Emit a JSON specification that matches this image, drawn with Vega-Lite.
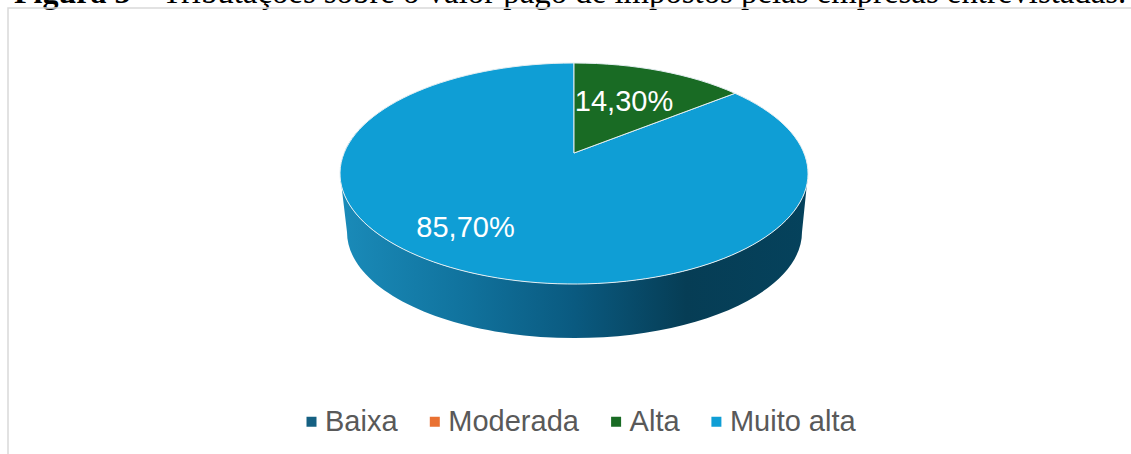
{"$schema":"https://vega.github.io/schema/vega-lite/v6.json","width":1131,"height":454,"padding":0,"autosize":{"type":"none"},"background":"#ffffff","view":{"stroke":null},"config":{"font":"Liberation Sans"},"data":{"values":[{"categoria":"Baixa","percentual":0},{"categoria":"Moderada","percentual":0},{"categoria":"Alta","percentual":14.3},{"categoria":"Muito alta","percentual":85.7}]},"layer":[{"mark":{"type":"point","filled":true,"size":0.01,"shape":"square"},"encoding":{"color":{"field":"categoria","type":"nominal","scale":{"domain":["Baixa","Moderada","Alta","Muito alta"],"range":["#156082","#E97132","#196B24","#0F9ED5"]},"legend":{"title":null,"orient":"none","direction":"horizontal","legendX":297,"legendY":407,"symbolType":"square","symbolSize":100,"symbolStrokeWidth":0,"symbolOpacity":1,"labelFont":"Liberation Sans","labelFontSize":29,"labelColor":"#595959","labelOffset":-1,"columnPadding":22.3,"labelLimit":300}}}},{"transform":[{"filter":"datum.categoria === 'Muito alta'"}],"mark":{"type":"point","filled":true,"size":4,"opacity":1,"shape":"M-225.5,-53.5 A234,110.5 0 0 0 242.5,-53.5 L236.5,5 A227.5,106 0 0 1 -218.5,5 Z","fill":{"gradient":"linear","x1":0,"y1":0,"x2":1,"y2":0,"stops":[{"offset":0,"color":"#1a8bb9"},{"offset":0.25,"color":"#11749f"},{"offset":0.5,"color":"#0a5a80"},{"offset":0.74,"color":"#063d55"},{"offset":1,"color":"#05425c"}]}},"encoding":{}},{"transform":[{"filter":"datum.categoria === 'Muito alta'"}],"mark":{"type":"point","filled":true,"size":4,"opacity":1,"stroke":"#e4eef2","strokeWidth":1,"shape":"M8.5,-74 L169.5,-133.7 A234,110.5 0 1 1 8.5,-164 Z"},"encoding":{"color":{"field":"categoria","type":"nominal","legend":null}}},{"transform":[{"filter":"datum.categoria === 'Alta'"}],"mark":{"type":"point","filled":true,"size":4,"opacity":1,"stroke":"#e4eef2","strokeWidth":1,"shape":"M8.5,-74 L8.5,-164 A234,110.5 0 0 1 169.5,-133.7 Z"},"encoding":{"color":{"field":"categoria","type":"nominal","legend":null}}},{"transform":[{"filter":"datum.categoria === 'Alta'"}],"mark":{"type":"text","font":"Liberation Sans","fontSize":29,"color":"#ffffff","align":"center","baseline":"middle","dx":58.5,"dy":-125.5},"encoding":{"text":{"value":"14,30%"}}},{"transform":[{"filter":"datum.categoria === 'Muito alta'"}],"mark":{"type":"text","font":"Liberation Sans","fontSize":29,"color":"#ffffff","align":"center","baseline":"middle","dx":-100,"dy":0.5},"encoding":{"text":{"value":"85,70%"}}},{"transform":[{"filter":"datum.categoria === 'Baixa'"}],"mark":{"type":"text","font":"Liberation Serif","fontSize":32,"fontWeight":"bold","color":"#000000","align":"left","baseline":"alphabetic","dx":-551.5,"dy":-224.5},"encoding":{"text":{"value":"Figura 5"}}},{"transform":[{"filter":"datum.categoria === 'Baixa'"}],"mark":{"type":"text","font":"Liberation Serif","fontSize":32.8,"color":"#000000","align":"left","baseline":"alphabetic","dx":-427.5,"dy":-224.5},"encoding":{"text":{"value":"– Tributações sobre o valor pago de impostos pelas empresas entrevistadas."}}},{"transform":[{"filter":"datum.categoria === 'Baixa'"}],"mark":{"type":"point","filled":false,"size":4,"opacity":1,"stroke":"#d9d9d9","strokeWidth":1.5,"shape":"M-557.5,227 L-557.5,-219 L565.5,-219"},"encoding":{}}]}
